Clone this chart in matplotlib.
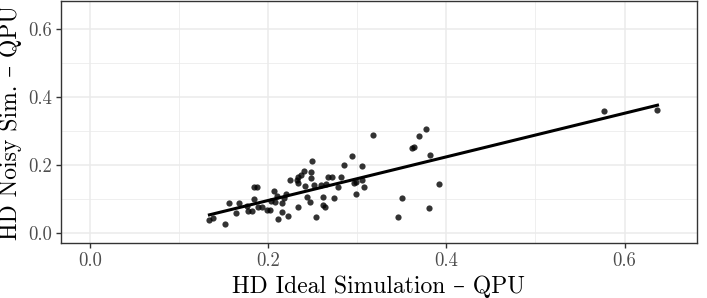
import matplotlib
matplotlib.use('Agg')
import matplotlib.pyplot as plt
from matplotlib.ticker import MultipleLocator
import numpy as np

plt.rcParams['font.family'] = ['cmr10', 'DejaVu Serif']
plt.rcParams['axes.formatter.use_mathtext'] = True
plt.rcParams['mathtext.fontset'] = 'cm'

# HD ideal simulation vs QPU (x) and HD noisy simulation vs QPU (y)
hd_ideal = [
    0.134, 0.138, 0.152, 0.156, 0.164, 0.167, 0.176, 0.177, 0.182, 0.184,
    0.187, 0.184, 0.188, 0.193, 0.199, 0.202, 0.203, 0.207, 0.210, 0.208,
    0.211, 0.215, 0.216, 0.218, 0.220, 0.222, 0.225, 0.232, 0.233, 0.234,
    0.237, 0.240, 0.234, 0.241, 0.243, 0.247, 0.248, 0.248, 0.249, 0.251,
    0.254, 0.259, 0.262, 0.261, 0.264, 0.265, 0.267, 0.272, 0.274, 0.278,
    0.282, 0.285, 0.294, 0.296, 0.298, 0.298, 0.305, 0.305, 0.307, 0.318,
    0.346, 0.350, 0.361, 0.364, 0.369, 0.377, 0.382, 0.380, 0.392, 0.577,
    0.637,
]
hd_noisy = [
    0.037, 0.043, 0.026, 0.086, 0.059, 0.087, 0.080, 0.064, 0.064, 0.135,
    0.135, 0.098, 0.075, 0.075, 0.066, 0.068, 0.094, 0.123, 0.109, 0.091,
    0.039, 0.062, 0.086, 0.101, 0.114, 0.050, 0.155, 0.155, 0.147, 0.164,
    0.169, 0.182, 0.075, 0.138, 0.106, 0.091, 0.179, 0.160, 0.211, 0.140,
    0.047, 0.140, 0.104, 0.081, 0.076, 0.142, 0.164, 0.164, 0.101, 0.135,
    0.164, 0.200, 0.225, 0.145, 0.149, 0.114, 0.196, 0.155, 0.133, 0.287,
    0.046, 0.101, 0.250, 0.251, 0.285, 0.304, 0.229, 0.072, 0.144, 0.357,
    0.361,
]

x = np.array(hd_ideal)
y = np.array(hd_noisy)

fig = plt.figure(figsize=(7.07, 2.98), dpi=100)
ax = fig.add_axes([0.0863, 0.1836, 0.8991, 0.813])

ax.scatter(x, y, s=20, color='black', alpha=0.8, linewidths=0, zorder=3)

# linear fit like geom_smooth(method='lm', se=FALSE)
slope, intercept = np.polyfit(x, y, 1)
xs = np.array([x.min(), x.max()])
ax.plot(xs, slope * xs + intercept, color='black', lw=2.2, zorder=4)

ax.set_xlim(-0.0326, 0.681)
ax.set_ylim(-0.031, 0.681)

ax.xaxis.set_major_locator(MultipleLocator(0.2))
ax.yaxis.set_major_locator(MultipleLocator(0.2))
ax.xaxis.set_minor_locator(MultipleLocator(0.1))
ax.yaxis.set_minor_locator(MultipleLocator(0.1))
ax.xaxis.set_major_formatter(lambda v, p: f'{v:.1f}')
ax.yaxis.set_major_formatter(lambda v, p: f'{v:.1f}')

ax.grid(True, which='major', color='#EBEBEB', lw=1.1, zorder=0)
ax.grid(True, which='minor', color='#EBEBEB', lw=0.55, zorder=0)
ax.set_axisbelow(True)
for sp in ax.spines.values():
    sp.set_color('#333333')
    sp.set_linewidth(1.0)

ax.tick_params(which='major', length=3.6, width=1.0, color='#333333',
               labelcolor='#4D4D4D', labelsize=13.5, pad=3)
ax.tick_params(which='minor', length=0)

ax.set_xlabel('HD Ideal Simulation – QPU', fontsize=17, labelpad=4)
ax.set_ylabel('HD Noisy Sim. – QPU', fontsize=17, labelpad=4)

fig.savefig('out.png', dpi=100)
